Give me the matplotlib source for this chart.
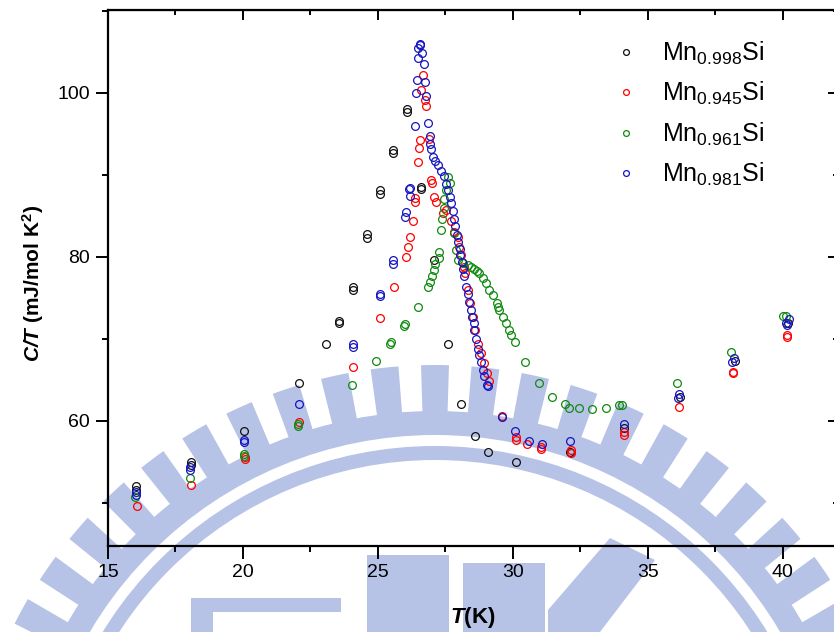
import matplotlib
matplotlib.use("Agg")
import matplotlib.pyplot as plt
from matplotlib.ticker import MultipleLocator
from matplotlib.patches import Wedge, Rectangle, Polygon

plt.rcParams['font.family'] = ['Liberation Sans', 'DejaVu Sans']
plt.rcParams['mathtext.fontset'] = 'custom'
plt.rcParams['mathtext.rm'] = 'Liberation Sans'
plt.rcParams['mathtext.it'] = 'Liberation Sans:italic'
plt.rcParams['mathtext.bf'] = 'Liberation Sans:bold'
plt.rcParams['mathtext.bfit'] = 'Liberation Sans:italic:bold'
plt.rcParams['mathtext.default'] = 'regular'

# data: T (K), C/T (mJ/mol K^2)
labels = ['Mn$_{0.998}$Si', 'Mn$_{0.945}$Si', 'Mn$_{0.961}$Si', 'Mn$_{0.981}$Si']
colors = ['#111111', '#ff0000', '#108a10', '#1515c0']

T_998 = [16.02, 16.02, 18.06, 18.06, 20.05, 22.07, 23.09, 23.57, 23.57, 24.07, 24.07,
         24.59, 24.59, 25.08, 25.08, 25.57, 25.57, 26.08, 26.08, 26.6, 26.6, 27.09,
         27.6, 28.09, 28.6, 29.09, 30.13, 32.13, 34.13, 36.2, 38.23, 40.2]
C_998 = [52.0, 51.6, 55.0, 54.6, 58.8, 64.6, 69.4, 72.2, 71.9, 76.3, 75.9,
         82.8, 82.3, 88.1, 87.7, 93.0, 92.6, 98.0, 97.7, 88.5, 88.3, 79.6,
         69.3, 62.0, 58.1, 56.2, 55.0, 56.2, 59.1, 62.9, 67.3, 71.9]

T_945 = [16.07, 18.08, 20.08, 20.08, 22.07, 24.09, 25.08, 25.59, 26.05, 26.1, 26.17,
         26.29, 26.39, 26.39, 26.5, 26.52, 26.54, 26.6, 26.66, 26.76, 26.78, 26.88,
         26.97, 27.0, 27.09, 27.15, 27.4, 27.53, 27.71, 27.83, 27.96, 28.0, 28.08,
         28.17, 28.23, 28.33, 28.42, 28.51, 28.6, 28.7, 28.82, 28.94, 29.03, 29.1,
         29.58, 30.12, 30.12, 30.53, 31.04, 31.04, 32.16, 32.16, 34.13, 34.13,
         36.14, 38.14, 38.14, 40.14, 40.14]
C_945 = [49.6, 52.2, 55.3, 55.6, 59.9, 66.6, 72.5, 76.3, 80.0, 81.2, 82.4,
         84.3, 86.7, 87.2, 91.5, 93.3, 94.2, 100.3, 102.2, 99.1, 98.4, 94.4,
         89.4, 89.0, 87.3, 86.7, 85.3, 85.7, 84.3, 83.0, 82.4, 81.2, 80.2,
         78.8, 78.0, 75.9, 74.3, 72.7, 71.1, 69.4, 68.2, 67.0, 65.8, 64.8,
         60.6, 57.7, 58.0, 57.1, 56.5, 56.8, 56.1, 56.4, 58.3, 58.6,
         61.7, 65.8, 66.0, 70.2, 70.4]

T_961 = [16.0, 18.04, 20.02, 20.02, 22.03, 22.03, 24.04, 24.91, 25.46, 25.5, 25.96,
         26.0, 26.48, 26.87, 26.93, 27.0, 27.07, 27.13, 27.25, 27.25, 27.34, 27.38,
         27.43, 27.46, 27.53, 27.59, 27.65, 27.83, 27.9, 27.96, 28.14, 28.33, 28.45,
         28.57, 28.65, 28.76, 28.88, 29.0, 29.13, 29.25, 29.4, 29.45, 29.5, 29.62,
         29.75, 29.84, 29.93, 30.06, 30.44, 30.96, 31.46, 31.93, 32.09, 32.46,
         32.93, 33.45, 33.94, 34.04, 36.07, 38.06, 40.02, 40.1]
C_961 = [50.7, 53.0, 55.7, 56.0, 59.3, 59.6, 64.3, 67.3, 69.3, 69.6, 71.5,
         71.8, 73.9, 76.3, 76.9, 77.6, 78.4, 79.1, 79.9, 80.6, 83.3, 84.6,
         85.9, 87.0, 88.1, 89.7, 89.0, 82.9, 80.8, 79.6, 79.2, 79.0, 78.8,
         78.5, 78.3, 78.0, 77.4, 76.8, 75.9, 75.3, 74.3, 73.9, 73.5, 72.7,
         71.9, 71.1, 70.5, 69.6, 67.1, 64.6, 62.9, 62.0, 61.6, 61.5,
         61.4, 61.6, 61.9, 61.9, 64.6, 68.4, 72.8, 72.8]

T_981 = [16.04, 16.04, 18.04, 18.04, 20.03, 20.03, 22.06, 24.09, 24.09, 25.09, 25.09,
         25.55, 25.55, 26.0, 26.04, 26.14, 26.17, 26.17, 26.39, 26.41, 26.43, 26.47,
         26.5, 26.54, 26.57, 26.64, 26.69, 26.75, 26.78, 26.84, 26.91, 26.93, 26.97,
         27.03, 27.12, 27.21, 27.34, 27.43, 27.53, 27.59, 27.65, 27.71, 27.77, 27.8,
         27.86, 27.92, 27.96, 28.02, 28.04, 28.1, 28.14, 28.2, 28.27, 28.33, 28.39,
         28.43, 28.47, 28.54, 28.57, 28.64, 28.7, 28.76, 28.82, 28.88, 28.94, 29.03,
         29.07, 29.58, 30.06, 30.59, 31.09, 32.1, 34.13, 36.14, 36.1, 38.17, 38.1,
         40.22, 40.12, 40.16]
C_981 = [51.3, 50.9, 54.3, 54.0, 57.6, 57.4, 62.0, 69.4, 69.0, 75.5, 75.2,
         79.6, 79.1, 84.8, 85.5, 88.2, 88.4, 87.4, 95.9, 100.0, 101.5, 105.4,
         104.2, 105.8, 105.9, 104.8, 103.5, 101.3, 99.6, 96.3, 94.7, 93.7, 93.1,
         92.2, 91.7, 91.2, 90.4, 89.8, 88.9, 88.1, 87.3, 86.5, 85.6, 84.6,
         83.7, 82.6, 81.8, 81.0, 80.2, 79.4, 78.5, 77.6, 76.3, 75.4, 74.5,
         73.5, 72.7, 71.9, 71.1, 70.0, 68.8, 68.0, 67.2, 66.2, 65.4, 64.4,
         64.2, 60.5, 58.7, 57.5, 57.2, 57.5, 59.6, 63.3, 62.8, 67.6, 67.1,
         72.4, 71.9, 71.7]

series = [(T_998, C_998), (T_945, C_945), (T_961, C_961), (T_981, C_981)]

fig = plt.figure(figsize=(8.34, 6.32), dpi=100)

# faint background logo (watermark), drawn in pixel units behind the plot
bg = fig.add_axes([0, 0, 1, 1], zorder=0)
bg.set_xlim(0, 834)
bg.set_ylim(632, 0)
bg.axis('off')
wm = '#b6c3e6'
cx, cy = 435, 836
bg.add_patch(Wedge((cx, cy), 425, -180, 0, width=24, color=wm, lw=0))
bg.add_patch(Wedge((cx, cy), 390, -180, 0, width=14, color=wm, lw=0))
for k in range(-14, 15):
    a = -90 + k * 6.15
    bg.add_patch(Wedge((cx, cy), 471, a - 1.7, a + 1.7, width=48, color=wm, lw=0))
bg.add_patch(Rectangle((367, 555), 82, 80, color=wm, lw=0))
bg.add_patch(Rectangle((463, 563), 82, 72, color=wm, lw=0))
bg.add_patch(Rectangle((191, 598), 150, 14, color=wm, lw=0))
bg.add_patch(Rectangle((191, 598), 22, 40, color=wm, lw=0))
bg.add_patch(Polygon([(548, 610), (610, 538), (655, 560), (600, 632), (548, 632)],
                     closed=True, color=wm, lw=0))

ax = fig.add_axes([108 / 834, 86 / 632, 730 / 834, 536 / 632], zorder=1)
ax.patch.set_visible(False)

for i, (t, c) in enumerate(series):
    ax.plot(t, c, 'o', ls='none', ms=5.6, mfc='none', mec=colors[i], mew=0.9,
            label=labels[i], zorder=2 + i)

ax.set_xlim(15, 42.04)
ax.set_ylim(44.72, 110.09)
ax.xaxis.set_major_locator(MultipleLocator(5))
ax.xaxis.set_minor_locator(MultipleLocator(2.5))
ax.yaxis.set_major_locator(MultipleLocator(20))
ax.yaxis.set_minor_locator(MultipleLocator(10))

for s in ax.spines.values():
    s.set_linewidth(1.6)
ax.tick_params(which='both', direction='out', width=1.4, labelsize=14, pad=4)
ax.tick_params(which='major', length=9)
ax.tick_params(which='minor', length=4.5)

top = ax.secondary_xaxis('top')
top.xaxis.set_major_locator(MultipleLocator(5))
top.xaxis.set_minor_locator(MultipleLocator(2.5))
top.tick_params(which='both', direction='in', width=1.4, labeltop=False)
top.tick_params(which='major', length=7)
top.tick_params(which='minor', length=3.5)
right = ax.secondary_yaxis('right')
right.yaxis.set_major_locator(MultipleLocator(20))
right.yaxis.set_minor_locator(MultipleLocator(10))
right.tick_params(which='both', direction='in', width=1.4, labelright=False)
right.tick_params(which='major', length=7)
right.tick_params(which='minor', length=3.5)

fig.text(473 / 834, 1 - 617 / 632, r'$\mathbfit{T}$(K)', fontsize=16,
         fontweight='bold', ha='center', va='center', zorder=3)
fig.text(33 / 834, 1 - 283 / 632, r'$\mathbfit{C/T}$ (mJ/mol K$^{\mathbf{2}}$)',
         fontsize=15, fontweight='bold', ha='center', va='center', rotation=90)

ax.legend(loc='upper left', bbox_to_anchor=(613 / 834, 1 - 40 / 632),
          bbox_transform=fig.transFigure, frameon=False, fontsize=18,
          handlelength=1.0, handletextpad=0.95, labelspacing=0.52,
          markerscale=0.75, borderpad=0, borderaxespad=0)

fig.savefig('out.png', dpi=100)
